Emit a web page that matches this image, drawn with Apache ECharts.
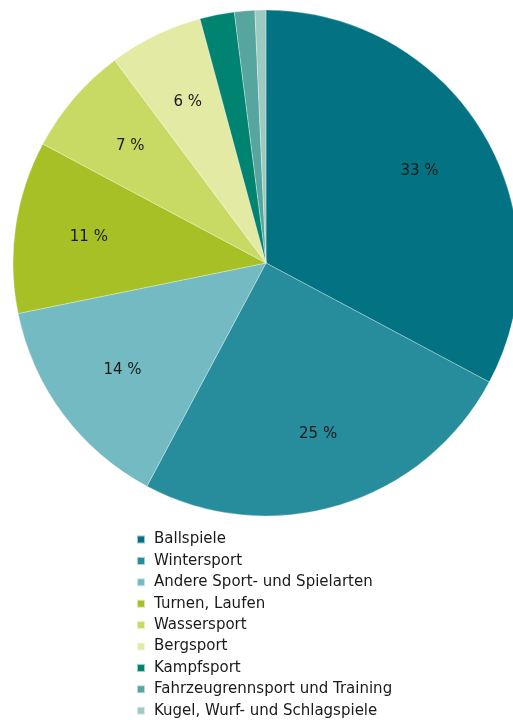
<!DOCTYPE html>
<html><head><meta charset="utf-8">
<script src="https://cdn.jsdelivr.net/npm/echarts@6/dist/echarts.min.js"></script>
<style>html,body{margin:0;padding:0;background:#fff}#c{width:513px;height:720px}</style>
</head><body><div id="c"></div>
<script>
var categories = ["Ballspiele","Wintersport","Andere Sport- und Spielarten","Turnen, Laufen","Wassersport","Bergsport","Kampfsport","Fahrzeugrennsport und Training","Kugel, Wurf- und Schlagspiele"];
var values = [32.8, 25.0, 14.0, 11.0, 7.0, 6.0, 2.2, 1.3, 0.7];
var colors = ["#037283","#278c9c","#74bac2","#a6c026","#c9da64","#e3eaa4","#008471","#56a69f","#9ecbc1"];
var FONT = "DejaVu Sans";

var chart = echarts.init(document.getElementById('c'), null, {renderer:'canvas'});
var data = categories.map(function(n,i){return {name:n, value:values[i], itemStyle:{color:colors[i]}};});
var labelData = categories.map(function(n,i){return {name:n, value:values[i]};});
chart.setOption({
  animation:false,
  legend:{
    orient:'vertical', left:136, top:532, bottom:0, padding:0,
    icon:'rect', itemWidth:8, itemHeight:8, itemGap:6.4,
    selectedMode:false,
    data:categories.map(function(n,i){return {name:n, itemStyle:{color:colors[i]}};}),
    textStyle:{fontFamily:FONT, fontSize:15, color:'#1a1a1a', padding:[0,0,0,4]}
  },
  series:[{
    type:'pie', center:[266,263], radius:[0,253], startAngle:90, clockwise:true,
    silent:true, label:{show:false}, labelLine:{show:false},
    itemStyle:{borderColor:'rgba(255,255,255,0.6)', borderWidth:0.5},
    data:data
  },{
    type:'pie', center:[266,263], radius:[0,352], startAngle:90, clockwise:true,
    silent:true, legendHoverLink:false,
    itemStyle:{color:'rgba(0,0,0,0)'},
    label:{show:true, position:'inside', fontFamily:FONT, fontSize:15, color:'#1a1a1a',
      formatter:function(p){return p.value>=5 ? Math.round(p.value)+' %' : '';}},
    labelLine:{show:false},
    data:labelData
  }]
});
</script></body></html>
